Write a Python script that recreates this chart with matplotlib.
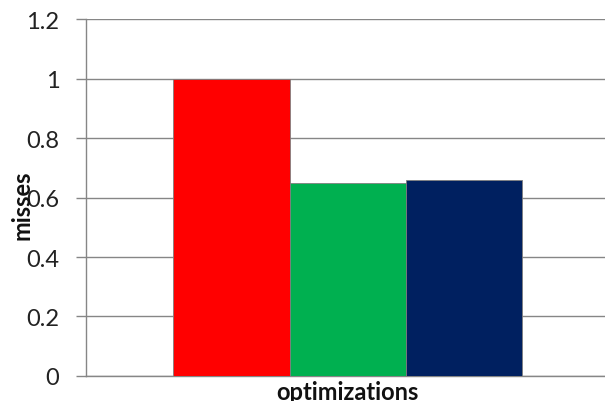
import matplotlib
matplotlib.use("Agg")
import matplotlib.pyplot as plt

# normalized miss counts for each optimization level
labels = ["baseline", "opt A", "opt B"]
misses = [1.0, 0.648, 0.660]
colors = ["#FF0000", "#00B050", "#002060"]
yticks = [0, 0.2, 0.4, 0.6, 0.8, 1, 1.2]
ytick_labels = ["0", "0.2", "0.4", "0.6", "0.8", "1", "1.2"]

plt.rcParams["font.family"] = ["Lato", "DejaVu Sans"]

fig = plt.figure(figsize=(6.05, 4.02), dpi=100)
ax = fig.add_axes([0.1421, 0.0622, 0.86, 0.888])

ax.bar(range(len(misses)), misses, width=1.0, color=colors,
       edgecolor="#7f7f7f", linewidth=0.6, zorder=3)

ax.set_ylim(0, 1.2)
ax.set_xlim(-1.25, 3.22)
ax.set_yticks(yticks)
ax.set_yticklabels(ytick_labels)
ax.set_xticks([])

# horizontal grid lines, Excel style
ax.yaxis.grid(True, color="#868686", linewidth=1.0, zorder=0)
ax.tick_params(axis="y", length=7.2, width=1.0, color="#868686",
               pad=12, labelsize=17, labelcolor="#222222")
for side in ["top", "right"]:
    ax.spines[side].set_visible(False)
ax.spines["left"].set_color("#868686")
ax.spines["bottom"].set_color("#868686")
ax.spines["left"].set_linewidth(1.0)
ax.spines["bottom"].set_linewidth(1.0)

fig.text(0.036, 0.49, "misses", rotation=90, ha="center", va="center",
         fontsize=17, fontweight="bold", color="#111111")
fig.text(0.575, 0.053, "optimizations", ha="center", va="top",
         fontsize=17, fontweight="bold", color="#111111")

fig.savefig("out.png", dpi=100)
